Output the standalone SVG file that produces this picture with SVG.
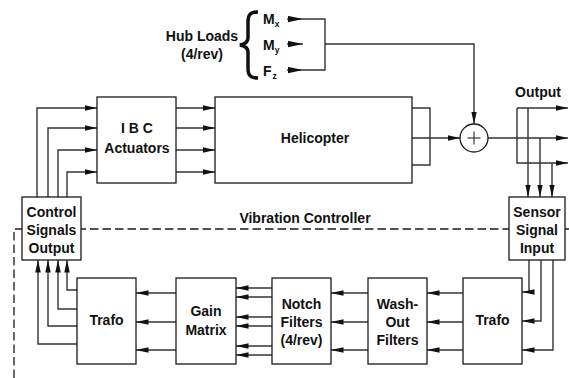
<svg xmlns="http://www.w3.org/2000/svg" width="569" height="378" viewBox="0 0 569 378">
<defs>
<style>
.box{fill:#fff;stroke:#1a1a1a;stroke-width:1.3}
.ln{fill:none;stroke:#333;stroke-width:1.4}
.arr{marker-end:url(#ah)}
.arr2{marker-end:url(#ah2)}
.dash{fill:none;stroke:#1a1a1a;stroke-width:1.3;stroke-dasharray:8.5 4}
text{font-family:"Liberation Sans",Arial,sans-serif;font-weight:bold;font-size:14px;fill:#111;text-anchor:middle}
.sub{font-size:8.5px}
</style>
<marker id="ah" markerUnits="userSpaceOnUse" markerWidth="13" markerHeight="6" refX="12.5" refY="2.75" orient="auto">
<path d="M0,0 L12.5,2.75 L0,5.5 z" fill="#111"/>
</marker>
<marker id="ah2" markerUnits="userSpaceOnUse" markerWidth="16" markerHeight="7" refX="15.5" refY="3.25" orient="auto">
<path d="M0,0 L15.5,3.25 L0,6.5 z" fill="#111"/>
</marker>
</defs>
<rect width="569" height="378" fill="#fff"/>

<g id="boundary">
<path class="dash" d="M14,378 V229 H569"/>
<text x="305" y="223">Vibration Controller</text>
</g>

<g id="connectors">
<!-- hub loads -->
<path class="ln arr2" d="M287,19 H303"/>
<path class="ln arr2" d="M287,44 H303"/>
<path class="ln arr2" d="M287,70 H303"/>
<path class="ln" d="M303,19 H325 V70 H303"/>
<path class="ln arr" d="M325,44 H474 V124"/>
<!-- control to IBC -->
<path class="ln arr" d="M37,197 V108 H97"/>
<path class="ln arr" d="M48,197 V128 H97"/>
<path class="ln arr" d="M58,197 V150 H97"/>
<path class="ln arr" d="M67,197 V172 H97"/>
<!-- IBC to helicopter -->
<path class="ln arr" d="M176,108 H215"/>
<path class="ln arr" d="M176,128 H215"/>
<path class="ln arr" d="M176,150 H215"/>
<path class="ln arr" d="M176,172 H215"/>
<!-- helicopter to sum -->
<path class="ln" d="M412,108 H430 V165 H412"/>
<path class="ln arr" d="M412,138 H460"/>
<!-- output -->
<path class="ln arr" d="M488,138 H568"/>
<path class="ln arr" d="M517,108 H568"/>
<path class="ln arr" d="M517,108 V163 H568"/>
<path class="ln arr" d="M528,108 V197"/>
<path class="ln arr" d="M540,138 V197"/>
<path class="ln arr" d="M552,163 V197"/>
<!-- sensor to trafo -->
<path class="ln arr" d="M529,260 V292 H522"/>
<path class="ln arr" d="M541,260 V321 H522"/>
<path class="ln arr" d="M553,260 V350 H522"/>
<!-- trafo to wash-out -->
<path class="ln arr" d="M463,293 H427"/>
<path class="ln arr" d="M463,322 H427"/>
<path class="ln arr" d="M463,350 H427"/>
<!-- wash-out to notch -->
<path class="ln arr" d="M368,293 H331"/>
<path class="ln arr" d="M368,322 H331"/>
<path class="ln arr" d="M368,350 H331"/>
<!-- notch to gain -->
<path class="ln arr" d="M272,288 H236"/>
<path class="ln arr" d="M272,297 H236"/>
<path class="ln arr" d="M272,317 H236"/>
<path class="ln arr" d="M272,326 H236"/>
<path class="ln arr" d="M272,346 H236"/>
<path class="ln arr" d="M272,355 H236"/>
<!-- gain to trafo -->
<path class="ln arr" d="M176,293 H136"/>
<path class="ln arr" d="M176,322 H136"/>
<path class="ln arr" d="M176,350 H136"/>
<!-- trafo to control -->
<path class="ln arr" d="M77,290 H67 V260"/>
<path class="ln arr" d="M77,309 H58 V260"/>
<path class="ln arr" d="M77,326 H48 V260"/>
<path class="ln arr" d="M77,344 H38 V260"/>
</g>

<g id="hubloads">
<text x="202" y="41">Hub Loads</text>
<text x="202" y="59">(4/rev)</text>
<path d="M258,12 C250,12 248,15 248,22 L248,38 C248,42 245,44 240,45 C245,46 248,48 248,52 L248,68 C248,75 250,78 258,78" fill="none" stroke="#111" stroke-width="3.5"/>
<text x="263" y="24" style="text-anchor:start">M<tspan class="sub" dy="3">x</tspan></text>
<text x="263" y="50" style="text-anchor:start">M<tspan class="sub" dy="3">y</tspan></text>
<text x="263" y="76" style="text-anchor:start">F<tspan class="sub" dx="1" dy="3">z</tspan></text>
</g>

<g id="ibc">
<rect class="box" x="97" y="97" width="79" height="86"/>
<text x="137" y="133">I B C</text>
<text x="137" y="153">Actuators</text>
</g>

<g id="helicopter">
<rect class="box" x="215" y="97" width="197" height="86"/>
<text x="315" y="143">Helicopter</text>
</g>

<g id="sum">
<circle class="box" cx="474" cy="138" r="14"/>
<path d="M467.5,138 H480.5 M474,131.5 V144.5" stroke="#111" stroke-width="1"/>
</g>

<g id="outputlabel">
<text x="538" y="97">Output</text>
</g>

<g id="control">
<rect class="box" x="22" y="197" width="59" height="63"/>
<text x="51.5" y="217">Control</text>
<text x="51.5" y="235">Signals</text>
<text x="51.5" y="253">Output</text>
</g>

<g id="sensor">
<rect class="box" x="509" y="197" width="56" height="63"/>
<text x="537" y="217">Sensor</text>
<text x="537" y="235">Signal</text>
<text x="537" y="253">Input</text>
</g>

<g id="trafo1">
<rect class="box" x="77" y="278" width="59" height="86"/>
<text x="106.5" y="325">Trafo</text>
</g>

<g id="gain">
<rect class="box" x="176" y="278" width="60" height="86"/>
<text x="206" y="316">Gain</text>
<text x="206" y="335">Matrix</text>
</g>

<g id="notch">
<rect class="box" x="272" y="278" width="59" height="86"/>
<text x="301.5" y="309">Notch</text>
<text x="301.5" y="327">Filters</text>
<text x="301.5" y="345">(4/rev)</text>
</g>

<g id="washout">
<rect class="box" x="368" y="278" width="59" height="86"/>
<text x="397.5" y="309">Wash-</text>
<text x="397.5" y="327">Out</text>
<text x="397.5" y="345">Filters</text>
</g>

<g id="trafo2">
<rect class="box" x="463" y="278" width="59" height="86"/>
<text x="492.5" y="325">Trafo</text>
</g>
</svg>
